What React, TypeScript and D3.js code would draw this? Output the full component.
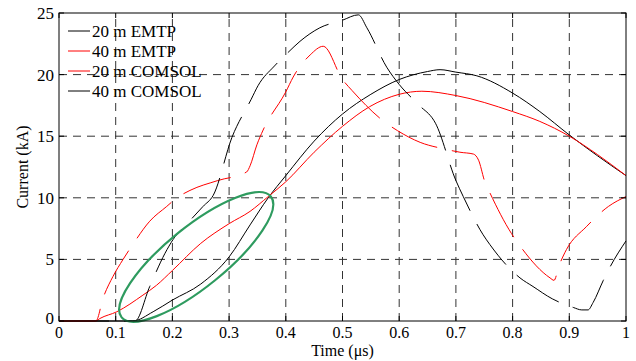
import * as d3 from "d3";

const timeTicks = [0, 0.1, 0.2, 0.3, 0.4, 0.5, 0.6, 0.7, 0.8, 0.9, 1];
const currentTicks = [0, 5, 10, 15, 20, 25];

// [time (µs), current (kA)]
const emtp20: [number, number][] = [
  [0, 0], [0.13, 0], [0.166, 0.75], [0.2, 1.7], [0.25, 3.0], [0.3, 5.2],
  [0.337, 7.8], [0.369, 10.0], [0.4, 11.8], [0.45, 14.6], [0.5, 16.8],
  [0.55, 18.4], [0.6, 19.6], [0.65, 20.25], [0.672, 20.4], [0.7, 20.2],
  [0.737, 19.9], [0.8, 18.5], [0.848, 17.0], [0.9, 15.1], [0.95, 13.4], [1.0, 11.8],
];

const emtp40: [number, number][] = [
  [0, 0], [0.065, 0], [0.072, 0.2], [0.102, 0.75], [0.148, 2.1], [0.172, 2.9],
  [0.2, 4.1], [0.25, 6.3], [0.3, 7.9], [0.337, 8.9], [0.369, 10.1], [0.4, 11.3],
  [0.45, 13.7], [0.5, 15.8], [0.548, 17.4], [0.6, 18.4], [0.64, 18.65],
  [0.7, 18.3], [0.8, 17.0], [0.848, 16.2], [0.9, 15.0], [0.95, 13.5], [1.0, 11.8],
];

const comsol20: [number, number][] = [
  [0, 0], [0.065, 0], [0.078, 1.9], [0.095, 3.6], [0.113, 5.0], [0.13, 6.2],
  [0.16, 8.1], [0.19, 9.3], [0.208, 10.0], [0.231, 10.6], [0.28, 11.4],
  [0.331, 12.1], [0.337, 12.6], [0.349, 14.3], [0.36, 15.5], [0.4, 18.6],
  [0.413, 19.8], [0.443, 21.6], [0.466, 22.3], [0.5, 19.6], [0.517, 18.7],
  [0.573, 16.2], [0.597, 15.45], [0.637, 14.5], [0.681, 13.95], [0.707, 13.7],
  [0.731, 13.55], [0.74, 13.05], [0.751, 11.3], [0.76, 10.4], [0.798, 7.1],
  [0.813, 6.1], [0.866, 3.5], [0.873, 3.3], [0.882, 4.5], [0.895, 5.8],
  [0.93, 7.65], [0.969, 9.3], [1.0, 10.1],
];

const comsol40: [number, number][] = [
  [0, 0], [0.134, 0], [0.16, 2.8], [0.187, 5.5], [0.201, 6.6], [0.228, 8.0],
  [0.254, 9.3], [0.272, 10.2], [0.305, 14.9], [0.339, 18.0], [0.351, 19.1],
  [0.38, 20.7], [0.404, 21.8], [0.425, 22.7], [0.46, 23.8], [0.499, 24.4],
  [0.528, 24.85], [0.543, 23.8], [0.578, 20.6], [0.6, 19.2], [0.633, 17.6],
  [0.664, 16.05], [0.7, 11.4], [0.713, 10.1], [0.748, 7.0], [0.76, 6.2],
  [0.813, 3.5], [0.836, 2.8], [0.87, 1.8], [0.907, 1.1], [0.922, 0.9],
  [0.933, 0.9], [0.942, 1.5], [0.96, 3.3], [0.972, 4.4], [1.0, 6.5],
];

const series = [
  { name: "20 m EMTP", data: emtp20, color: "#000", dash: "none" },
  { name: "40 m EMTP", data: emtp40, color: "#ff0000", dash: "none" },
  { name: "20 m COMSOL", data: comsol20, color: "#ff0000", dash: "50,15" },
  { name: "40 m COMSOL", data: comsol40, color: "#000", dash: "50,15" },
];

// highlighted region (data coordinates of the ellipse centre)
const highlight = { t: 0.242, i: 5.2 };

const font = '"Liberation Serif", "DejaVu Serif", serif';

export default function App() {
  const width = 636;
  const height = 361;
  const margin = { top: 13, right: 10, bottom: 40, left: 59 };
  const x = d3.scaleLinear([0, 1], [margin.left, width - margin.right]);
  const y = d3.scaleLinear([0, 25], [height - margin.bottom, margin.top]);

  const line = d3
    .line<[number, number]>()
    .x((d) => x(d[0]))
    .y((d) => y(d[1]))
    .curve(d3.curveMonotoneX);

  const x0 = x(0);
  const x1 = x(1);
  const y0 = y(0);
  const y1 = y(25);
  const txt = { fontFamily: font, fontSize: 17 };

  return (
    <svg
      width={width}
      height={height}
      style={{ position: "absolute", left: 0, top: 0, background: "#fff" }}
    >
      <rect x={0} y={0} width={width} height={height} fill="#fff" />
      {/* grid */}
      {timeTicks.slice(1, -1).map((t) => (
        <line
          key={`gx${t}`}
          x1={x(t)}
          x2={x(t)}
          y1={y0}
          y2={y1}
          stroke="#333"
          strokeDasharray="8,6"
        />
      ))}
      {currentTicks.slice(1, -1).map((v) => (
        <line
          key={`gy${v}`}
          x1={x0}
          x2={x1}
          y1={y(v)}
          y2={y(v)}
          stroke="#333"
          strokeDasharray="8,6"
        />
      ))}

      {/* curves */}
      {series.map((s) => (
        <path
          key={s.name}
          d={line(s.data) ?? undefined}
          fill="none"
          stroke={s.color}
          strokeWidth={1}
          strokeDasharray={s.dash}
        />
      ))}

      <ellipse
        cx={x(highlight.t)}
        cy={y(highlight.i)}
        rx={96}
        ry={30}
        fill="none"
        stroke="#2e9b5f"
        strokeWidth={2.2}
        transform={`rotate(-39 ${x(highlight.t)} ${y(highlight.i)})`}
      />

      {/* ticks */}
      {timeTicks.map((t) => (
        <g key={`tx${t}`}>
          <line x1={x(t)} x2={x(t)} y1={y0} y2={y0 - 5} stroke="#000" />
          <line x1={x(t)} x2={x(t)} y1={y1} y2={y1 + 5} stroke="#000" />
          <text
            x={x(t)}
            y={y0 + 17}
            textAnchor="middle"
            style={{ ...txt, fontSize: 16 }}
          >
            {t}
          </text>
        </g>
      ))}
      {currentTicks.map((v) => (
        <g key={`ty${v}`}>
          <line x1={x0} x2={x0 + 5} y1={y(v)} y2={y(v)} stroke="#000" />
          <line x1={x1} x2={x1 - 5} y1={y(v)} y2={y(v)} stroke="#000" />
          <text
            x={x0 - 5}
            y={y(v) - (v === 0 ? 3 : 0)}
            dy="0.35em"
            textAnchor="end"
            style={txt}
          >
            {v}
          </text>
        </g>
      ))}

      <rect
        x={x0}
        y={y1}
        width={x1 - x0}
        height={y0 - y1}
        fill="none"
        stroke="#000"
      />

      {/* legend */}
      {series.map((s, i) => {
        const ly = 31 + i * 20;
        return (
          <g key={`lg${s.name}`}>
            <line x1={68} x2={90} y1={ly} y2={ly} stroke={s.color} />
            <text x={92} y={ly} dy="0.35em" style={txt}>
              {s.name}
            </text>
          </g>
        );
      })}

      <text
        x={(x0 + x1) / 2}
        y={height - 5}
        textAnchor="middle"
        style={{ ...txt, fontSize: 16 }}
      >
        Time (μs)
      </text>
      <text
        x={22}
        y={(y0 + y1) / 2}
        textAnchor="middle"
        dy="0.35em"
        style={{ ...txt, fontSize: 16 }}
        transform={`rotate(-90 22 ${(y0 + y1) / 2})`}
      >
        Current (kA)
      </text>
    </svg>
  );
}
